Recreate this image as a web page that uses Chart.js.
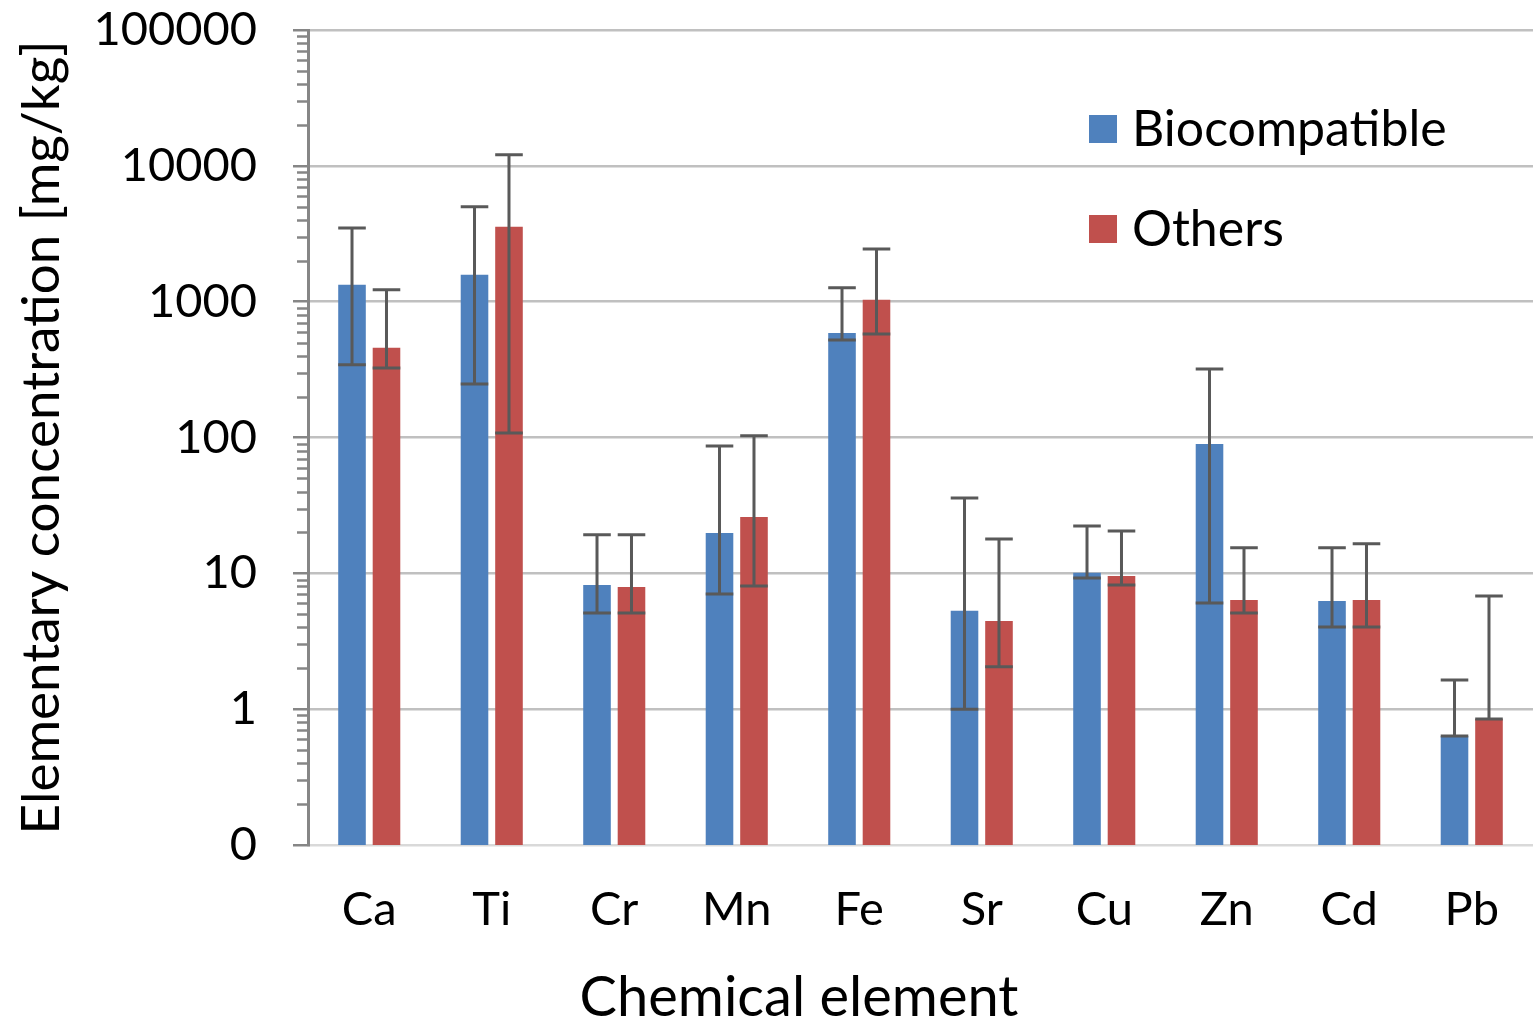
<!DOCTYPE html>
<html>
<head>
<meta charset="utf-8">
<script src="https://cdn.jsdelivr.net/npm/chart.js@4.4.0/dist/chart.umd.min.js"></script>
<style>
  html, body { margin: 0; padding: 0; background: #fff; }
  #wrap { width: 1533px; height: 1021px; position: relative; }
</style>
</head>
<body>
<div id="wrap"><canvas id="chart"></canvas></div>
<script>
// Data
const elements = ['Ca', 'Ti', 'Cr', 'Mn', 'Fe', 'Sr', 'Cu', 'Zn', 'Cd', 'Pb'];

const bioValues = [1330, 1575, 8.2, 19.8, 589, 5.3, 10.1, 89.7, 6.26, 0.635];
const bioUpper = [3490, 4990, 19.2, 86.7, 1264, 35.9, 22.3, 320, 15.4, 1.64];
const bioLower = [343, 248, 5.1, 7.05, 523, 1.0, 9.25, 6.05, 4.03, 0.635];

const otherValues = [457, 3556, 7.94, 26, 1031, 4.46, 9.57, 6.37, 6.37, 0.847];
const otherUpper = [1222, 12050, 19.2, 102.8, 2447, 17.9, 20.5, 15.4, 16.5, 6.82];
const otherLower = [325, 108, 5.1, 8.07, 579, 2.05, 8.2, 5.1, 4.03, 0.847];

const yTicks = [0.1, 1, 10, 100, 1000, 10000, 100000];

const FONT = 'Lato, "Open Sans", sans-serif';
const BLUE = '#4F81BD';
const RED = '#C0504D';

/**
 * Error bars, minor ticks, legend and x title
 */
const extrasPlugin = {
  id: 'extras',
  afterDatasetsDraw(chart) {
    const ctx = chart.ctx;
    const y = chart.scales.y;
    const bars = [[bioUpper, bioLower], [otherUpper, otherLower]];
    ctx.save();
    ctx.strokeStyle = '#595959';
    ctx.lineWidth = 3;
    bars.forEach(([up, lo], di) => {
      const meta = chart.getDatasetMeta(di);
      meta.data.forEach((el, i) => {
        const yt = y.getPixelForValue(up[i]);
        const yb = y.getPixelForValue(lo[i]);
        const half = el.width / 2;
        ctx.beginPath();
        ctx.moveTo(el.x, yb);
        ctx.lineTo(el.x, yt);
        ctx.moveTo(el.x - half, yt);
        ctx.lineTo(el.x + half, yt);
        ctx.moveTo(el.x - half, yb);
        ctx.lineTo(el.x + half, yb);
        ctx.stroke();
      });
    });
    ctx.restore();
  },
  afterDraw(chart) {
    const ctx = chart.ctx;
    const y = chart.scales.y;
    const axisX = chart.chartArea.left;

    // minor log ticks
    ctx.save();
    ctx.strokeStyle = '#868686';
    ctx.lineWidth = 2.5;
    for (let d = 0.1; d < 100000; d *= 10) {
      for (let k = 2; k <= 9; k++) {
        const py = Math.round(y.getPixelForValue(d * k)) + 0.5;
        ctx.beginPath();
        ctx.moveTo(axisX - 11, py);
        ctx.lineTo(axisX, py);
        ctx.stroke();
      }
    }

    // legend
    const items = [['Biocompatible', BLUE, 129], ['Others', RED, 229]];
    ctx.font = '50px ' + FONT;
    ctx.textBaseline = 'middle';
    ctx.textAlign = 'left';
    items.forEach(([label, color, cy]) => {
      ctx.fillStyle = color;
      ctx.fillRect(1089, cy - 14, 28, 28);
      ctx.fillStyle = '#000';
      ctx.fillText(label, 1132, cy + 1);
    });

    // x axis title
    ctx.font = '56px ' + FONT;
    ctx.textAlign = 'center';
    ctx.fillText('Chemical element', 799, 998);
    ctx.restore();
  },
};

new Chart(document.getElementById('chart'), {
  type: 'bar',
  data: {
    labels: elements,
    datasets: [
      {
        label: 'Biocompatible',
        data: bioValues,
        backgroundColor: BLUE,
        categoryPercentage: 0.563,
        barPercentage: 0.8,
      },
      {
        label: 'Others',
        data: otherValues,
        backgroundColor: RED,
        categoryPercentage: 0.563,
        barPercentage: 0.8,
      },
    ],
  },
  options: {
    responsive: true,
    maintainAspectRatio: false,
    animation: false,
    layout: { padding: { top: 30, right: 0, left: 0, bottom: 0 } },
    plugins: {
      legend: { display: false },
      tooltip: { enabled: false },
    },
    scales: {
      x: {
        grid: { display: false, drawTicks: false },
        border: { display: true, color: '#d9d9d9', width: 2.5 },
        ticks: {
          color: '#000',
          font: { family: FONT, size: 47 },
          padding: 37,
        },
        afterFit(scale) {
          scale.height = 176;
          scale.paddingLeft = 0;
          scale.paddingRight = 0;
        },
      },
      y: {
        type: 'logarithmic',
        min: 0.1,
        max: 100000,
        afterBuildTicks(scale) {
          scale.ticks = yTicks.map(v => ({ value: v, major: true }));
        },
        afterFit(scale) {
          scale.width = 308;
          scale.paddingTop = 0;
          scale.paddingBottom = 0;
        },
        grid: {
          color: ctx => (ctx.tick && ctx.tick.value === 0.1 ? 'rgba(0,0,0,0)' : '#c0c0c0'),
          lineWidth: 2.5,
          tickColor: '#868686',
          tickLength: 15,
        },
        border: { display: true, color: '#868686', width: 3 },
        ticks: {
          color: '#000',
          font: { family: FONT, size: 47 },
          padding: 36,
          callback: v => (v === 0.1 ? '0' : String(v)),
        },
        title: {
          display: true,
          text: 'Elementary concentration [mg/kg]',
          color: '#000',
          font: { family: FONT, size: 53 },
          padding: { top: 10, bottom: 0 },
        },
      },
    },
  },
  plugins: [extrasPlugin],
});
</script>
</body>
</html>
